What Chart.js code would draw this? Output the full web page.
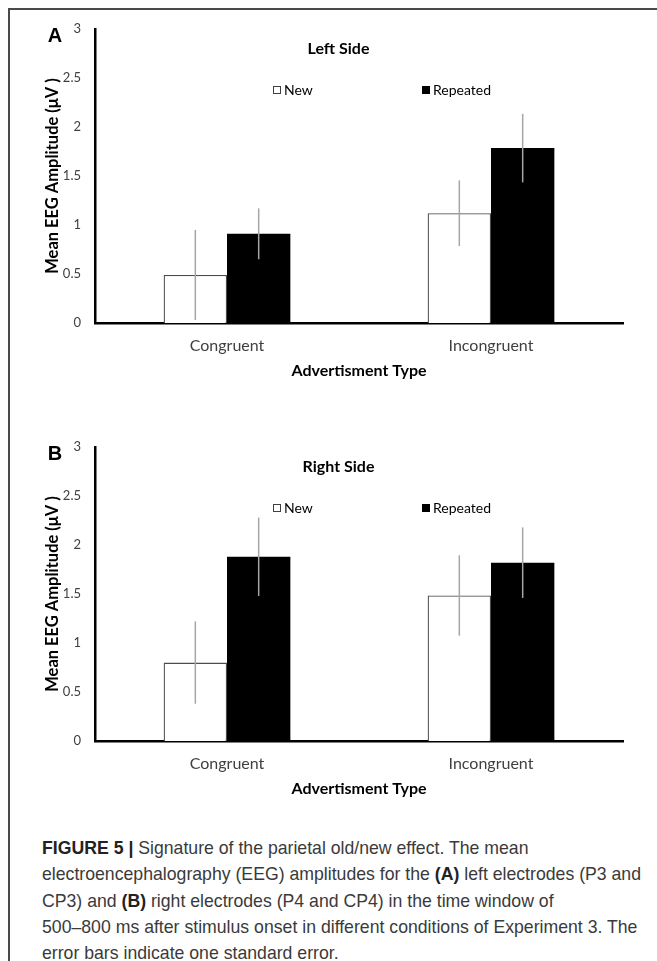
<!DOCTYPE html>
<html>
<head>
<meta charset="utf-8">
<script src="https://cdn.jsdelivr.net/npm/chart.js@4/dist/chart.umd.min.js"></script>
<style>
  html, body { margin: 0; padding: 0; background: #fff; }
  #page { position: relative; width: 657px; height: 961px; overflow: hidden; }
  #frame { position: absolute; left: 8px; top: 8px; width: 660px; height: 970px;
           border-top: 2px solid #4a4a4a; border-left: 2px solid #4a4a4a; }
  .panel { position: absolute; left: 0; width: 657px; height: 400px; }
  #caption { position: absolute; left: 42px; top: 835px;
             font-family: "Liberation Sans Narrow", "Arial Narrow", "Liberation Sans", sans-serif;
             font-size: 19px; line-height: 26.3px; color: #3a3a3a; white-space: nowrap;
             transform-origin: 0 0; }
  #caption b { color: #222; }
  #caption span { display: inline-block; }
</style>
</head>
<body>
<div id="page">
  <div id="frame"></div>
  <div class="panel" style="top:0"><canvas id="chartA" width="657" height="400"></canvas></div>
  <div class="panel" style="top:418px"><canvas id="chartB" width="657" height="400"></canvas></div>
  <div id="caption"><span><b>FIGURE 5 |</b> Signature of the parietal old/new effect. The mean</span><br><span id="fullLine">electroencephalography (EEG) amplitudes for the <b>(A)</b> left electrodes (P3 and</span><br><span>CP3) and <b>(B)</b> right electrodes (P4 and CP4) in the time window of</span><br><span>500–800 ms after stimulus onset in different conditions of Experiment 3. The</span><br><span>error bars indicate one standard error.</span></div>
</div>
<script>
const categories = ['Congruent', 'Incongruent'];
const seriesNames = ['New', 'Repeated'];

// panel A - left side
const newLeft = [0.49, 1.12];
const repeatedLeft = [0.91, 1.785];
const newLeftErr = [0.46, 0.335];
const repeatedLeftErr = [0.26, 0.35];

// panel B - right side
const newRight = [0.80, 1.485];
const repeatedRight = [1.88, 1.82];
const newRightErr = [0.42, 0.41];
const repeatedRightErr = [0.40, 0.36];

const yTicksMax = 3;
const yTickStep = 0.5;

const FONT = 'Lato, "Open Sans", sans-serif';

// no narrow font installed: squeeze the caption to the width of the original
const cap = document.getElementById('caption');
const natural = document.getElementById('fullLine').getBoundingClientRect().width;
cap.style.transform = 'scaleX(' + (599 / natural) + ')';

// error bars, side title, legend and panel letter
const extras = {
  id: 'extras',
  afterDatasetsDraw(chart, args, opts) {
    const ctx = chart.ctx;
    const y = chart.scales.y;
    ctx.save();
    ctx.strokeStyle = '#a6a6a6';
    ctx.lineWidth = 1.5;
    chart.data.datasets.forEach((ds, i) => {
      chart.getDatasetMeta(i).data.forEach((bar, j) => {
        const v = ds.data[j], e = ds.errors[j];
        ctx.beginPath();
        ctx.moveTo(bar.x, y.getPixelForValue(v + e));
        ctx.lineTo(bar.x, y.getPixelForValue(Math.max(0, v - e)));
        ctx.stroke();
      });
    });
    ctx.restore();
  },
  afterDraw(chart, args, opts) {
    const ctx = chart.ctx;
    ctx.save();
    // panel letter
    ctx.fillStyle = '#000';
    ctx.font = 'bold 20px "Liberation Sans", Arial, sans-serif';
    ctx.textAlign = 'center';
    ctx.textBaseline = 'middle';
    ctx.fillText(opts.letter, 55, 36);
    // side title
    ctx.font = 'bold 16px ' + FONT;
    ctx.fillText(opts.title, 338.5, 49);
    // legend
    ctx.font = '14px ' + FONT;
    ctx.textAlign = 'left';
    const legendX = [273, 422];
    chart.data.datasets.forEach((ds, i) => {
      const x = legendX[i];
      ctx.fillStyle = ds.backgroundColor;
      ctx.fillRect(x, 86, 8, 8);
      ctx.strokeStyle = i === 0 ? '#404040' : '#000';
      ctx.lineWidth = 1;
      ctx.strokeRect(x + 0.5, 86.5, 7, 7);
      ctx.fillStyle = '#000';
      ctx.fillText(ds.label, x + 11, 90.5);
    });
    ctx.restore();
  }
};

function makeChart(id, letter, title, newVals, repVals, newErr, repErr) {
  return new Chart(document.getElementById(id), {
    type: 'bar',
    data: {
      labels: categories,
      datasets: [{
        label: seriesNames[0],
        data: newVals,
        errors: newErr,
        backgroundColor: '#ffffff',
        borderColor: '#4d4d4d',
        borderWidth: 1.3
      }, {
        label: seriesNames[1],
        data: repVals,
        errors: repErr,
        backgroundColor: '#000000',
        borderColor: '#000000',
        borderWidth: 0
      }]
    },
    options: {
      responsive: false,
      animation: false,
      layout: { padding: { left: 39.1, top: 29, right: 34, bottom: 15.4 } },
      datasets: { bar: { categoryPercentage: 0.48, barPercentage: 1.0 } },
      plugins: {
        legend: { display: false },
        tooltip: { enabled: false },
        extras: { letter: letter, title: title }
      },
      scales: {
        x: {
          grid: { display: false, drawTicks: false },
          border: { color: '#000', width: 2.5 },
          ticks: { color: '#404040', padding: 13.4, font: { family: FONT, size: 16 } },
          title: { display: true, text: 'Advertisment Type', color: '#000',
                   font: { family: FONT, size: 16, weight: 'bold' } },
          afterFit: s => { s.height = 61.6; }
        },
        y: {
          min: 0,
          max: yTicksMax,
          grid: { display: false, drawTicks: false },
          border: { color: '#000', width: 2.5 },
          ticks: { stepSize: yTickStep, color: '#404040', padding: 14,
                   font: { family: FONT, size: 13 },
                   callback: v => String(v) },
          title: { display: true, text: 'Mean EEG Amplitude (μV )', color: '#000',
                   font: { family: FONT, size: 16.5, weight: 'bold' } },
          afterFit: s => { s.width = 55.9; }
        }
      }
    },
    plugins: [extras]
  });
}

makeChart('chartA', 'A', 'Left Side', newLeft, repeatedLeft, newLeftErr, repeatedLeftErr);
makeChart('chartB', 'B', 'Right Side', newRight, repeatedRight, newRightErr, repeatedRightErr);
</script>
</body>
</html>
